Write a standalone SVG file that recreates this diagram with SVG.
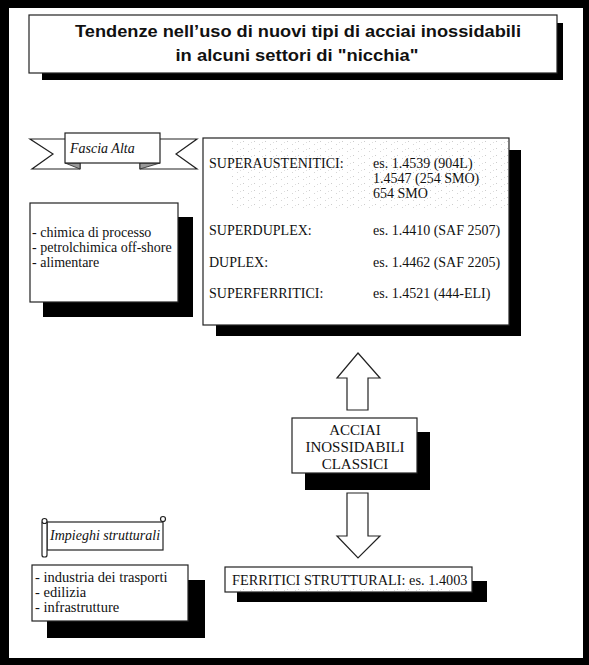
<svg xmlns="http://www.w3.org/2000/svg" width="589" height="665" viewBox="0 0 589 665">
<style>
.box{fill:#fff;stroke:#222;stroke-width:1.2}
.sh{fill:#000}
.t{font-family:"Liberation Serif","Times New Roman",serif;font-size:14px;fill:#111}
.ti{font-family:"Liberation Serif","Times New Roman",serif;font-size:14px;font-style:italic;fill:#111}
.title{font-family:"Liberation Sans",Arial,sans-serif;font-size:17px;font-weight:bold;fill:#111;text-anchor:middle}
.arrow{fill:#fff;stroke:#222;stroke-width:1.2;stroke-linejoin:miter}
.fold{fill:#999;stroke:#222;stroke-width:0.8}
.speck{fill:url(#dots)}
</style>
<defs>
<pattern id="dots" width="11" height="7" patternUnits="userSpaceOnUse">
<rect x="1" y="1" width="1" height="1" fill="#999"/>
<rect x="6" y="4" width="1" height="1" fill="#aaa"/>
<rect x="9" y="2" width="1" height="1" fill="#bbb"/>
</pattern>
</defs>
<rect x="0" y="0" width="589" height="665" fill="#000"/>
<rect x="9" y="8" width="574" height="650" fill="#fff"/>

<g id="title">
<rect class="sh" x="42" y="23" width="521" height="57"/>
<rect class="box" x="29" y="15" width="528" height="58"/>
<text class="title" x="298" y="37" textLength="446" lengthAdjust="spacingAndGlyphs">Tendenze nell’uso di nuovi tipi di acciai inossidabili</text>
<text class="title" x="297" y="61" textLength="243" lengthAdjust="spacingAndGlyphs">in alcuni settori di "nicchia"</text>
</g>

<g id="fascia-alta">
<polygon class="box" points="30,139 80,139 80,169 32,169 53,154"/>
<polygon class="box" points="197,139 140,139 140,169 197,169 176,154"/>
<polygon class="fold" points="65,163 80,169 80,163"/>
<polygon class="fold" points="160,163 140,169 140,163"/>
<rect class="box" x="65" y="133" width="95" height="30"/>
<text class="ti" x="70" y="153">Fascia Alta</text>
</g>

<g id="list-alta">
<rect class="sh" x="43" y="217" width="150" height="100"/>
<rect class="box" x="30" y="203" width="148" height="99"/>
<text class="t" x="32" y="237">- chimica di processo</text>
<text class="t" x="32" y="252">- petrolchimica off-shore</text>
<text class="t" x="32" y="267">- alimentare</text>
</g>

<g id="main-box">
<rect class="sh" x="216" y="150" width="305" height="186"/>
<rect class="box" x="203" y="138" width="306" height="187"/>
<rect class="speck" x="230" y="140" width="278" height="70" opacity="0.5"/>
<text class="t" x="209" y="168">SUPERAUSTENITICI:</text>
<text class="t" x="373" y="168">es. 1.4539 (904L)</text>
<text class="t" x="373" y="183">1.4547 (254 SMO)</text>
<text class="t" x="373" y="198">654 SMO</text>
<text class="t" x="209" y="235">SUPERDUPLEX:</text>
<text class="t" x="373" y="235">es. 1.4410 (SAF 2507)</text>
<text class="t" x="209" y="267">DUPLEX:</text>
<text class="t" x="373" y="267">es. 1.4462 (SAF 2205)</text>
<text class="t" x="209" y="298">SUPERFERRITICI:</text>
<text class="t" x="373" y="298">es. 1.4521 (444-ELI)</text>
</g>

<g id="connectors">
<polygon class="arrow" points="358,353 380,378 368,378 368,410 347,410 347,378 337,378"/>
<polygon class="arrow" points="347,493 368,493 368,536 380,536 358,558 337,536 347,536"/>
</g>

<g id="acciai">
<rect class="sh" x="305" y="432" width="125" height="58"/>
<rect class="box" x="292" y="418" width="125" height="55"/>
<text class="t" x="355" y="435" text-anchor="middle" style="font-size:15px">ACCIAI</text>
<text class="t" x="355" y="452" text-anchor="middle" style="font-size:15px">INOSSIDABILI</text>
<text class="t" x="355" y="469" text-anchor="middle" style="font-size:15px">CLASSICI</text>
</g>

<g id="impieghi">
<rect class="box" x="47" y="522" width="116" height="28"/>
<rect class="box" x="42" y="521" width="5" height="36" rx="2"/>
<circle class="box" cx="44.5" cy="521" r="2.5"/>
<circle class="box" cx="163" cy="519" r="2.5"/>
<text class="ti" x="50" y="540">Impieghi strutturali</text>
</g>

<g id="list-strutturali">
<rect class="sh" x="47" y="580" width="158" height="58"/>
<rect class="box" x="32" y="565" width="156" height="56"/>
<text class="t" x="35" y="582" style="font-size:14.5px">- industria dei trasporti</text>
<text class="t" x="35" y="597" style="font-size:14.5px">- edilizia</text>
<text class="t" x="35" y="612" style="font-size:14.5px">- infrastrutture</text>
</g>

<g id="ferritici">
<rect class="sh" x="237" y="581" width="250" height="21"/>
<rect class="box" x="225" y="567" width="247" height="25"/>
<rect class="speck" x="240" y="586" width="220" height="5" opacity="0.5"/>
<text class="t" x="232" y="585" style="font-size:14.3px">FERRITICI STRUTTURALI: es. 1.4003</text>
</g>
</svg>
